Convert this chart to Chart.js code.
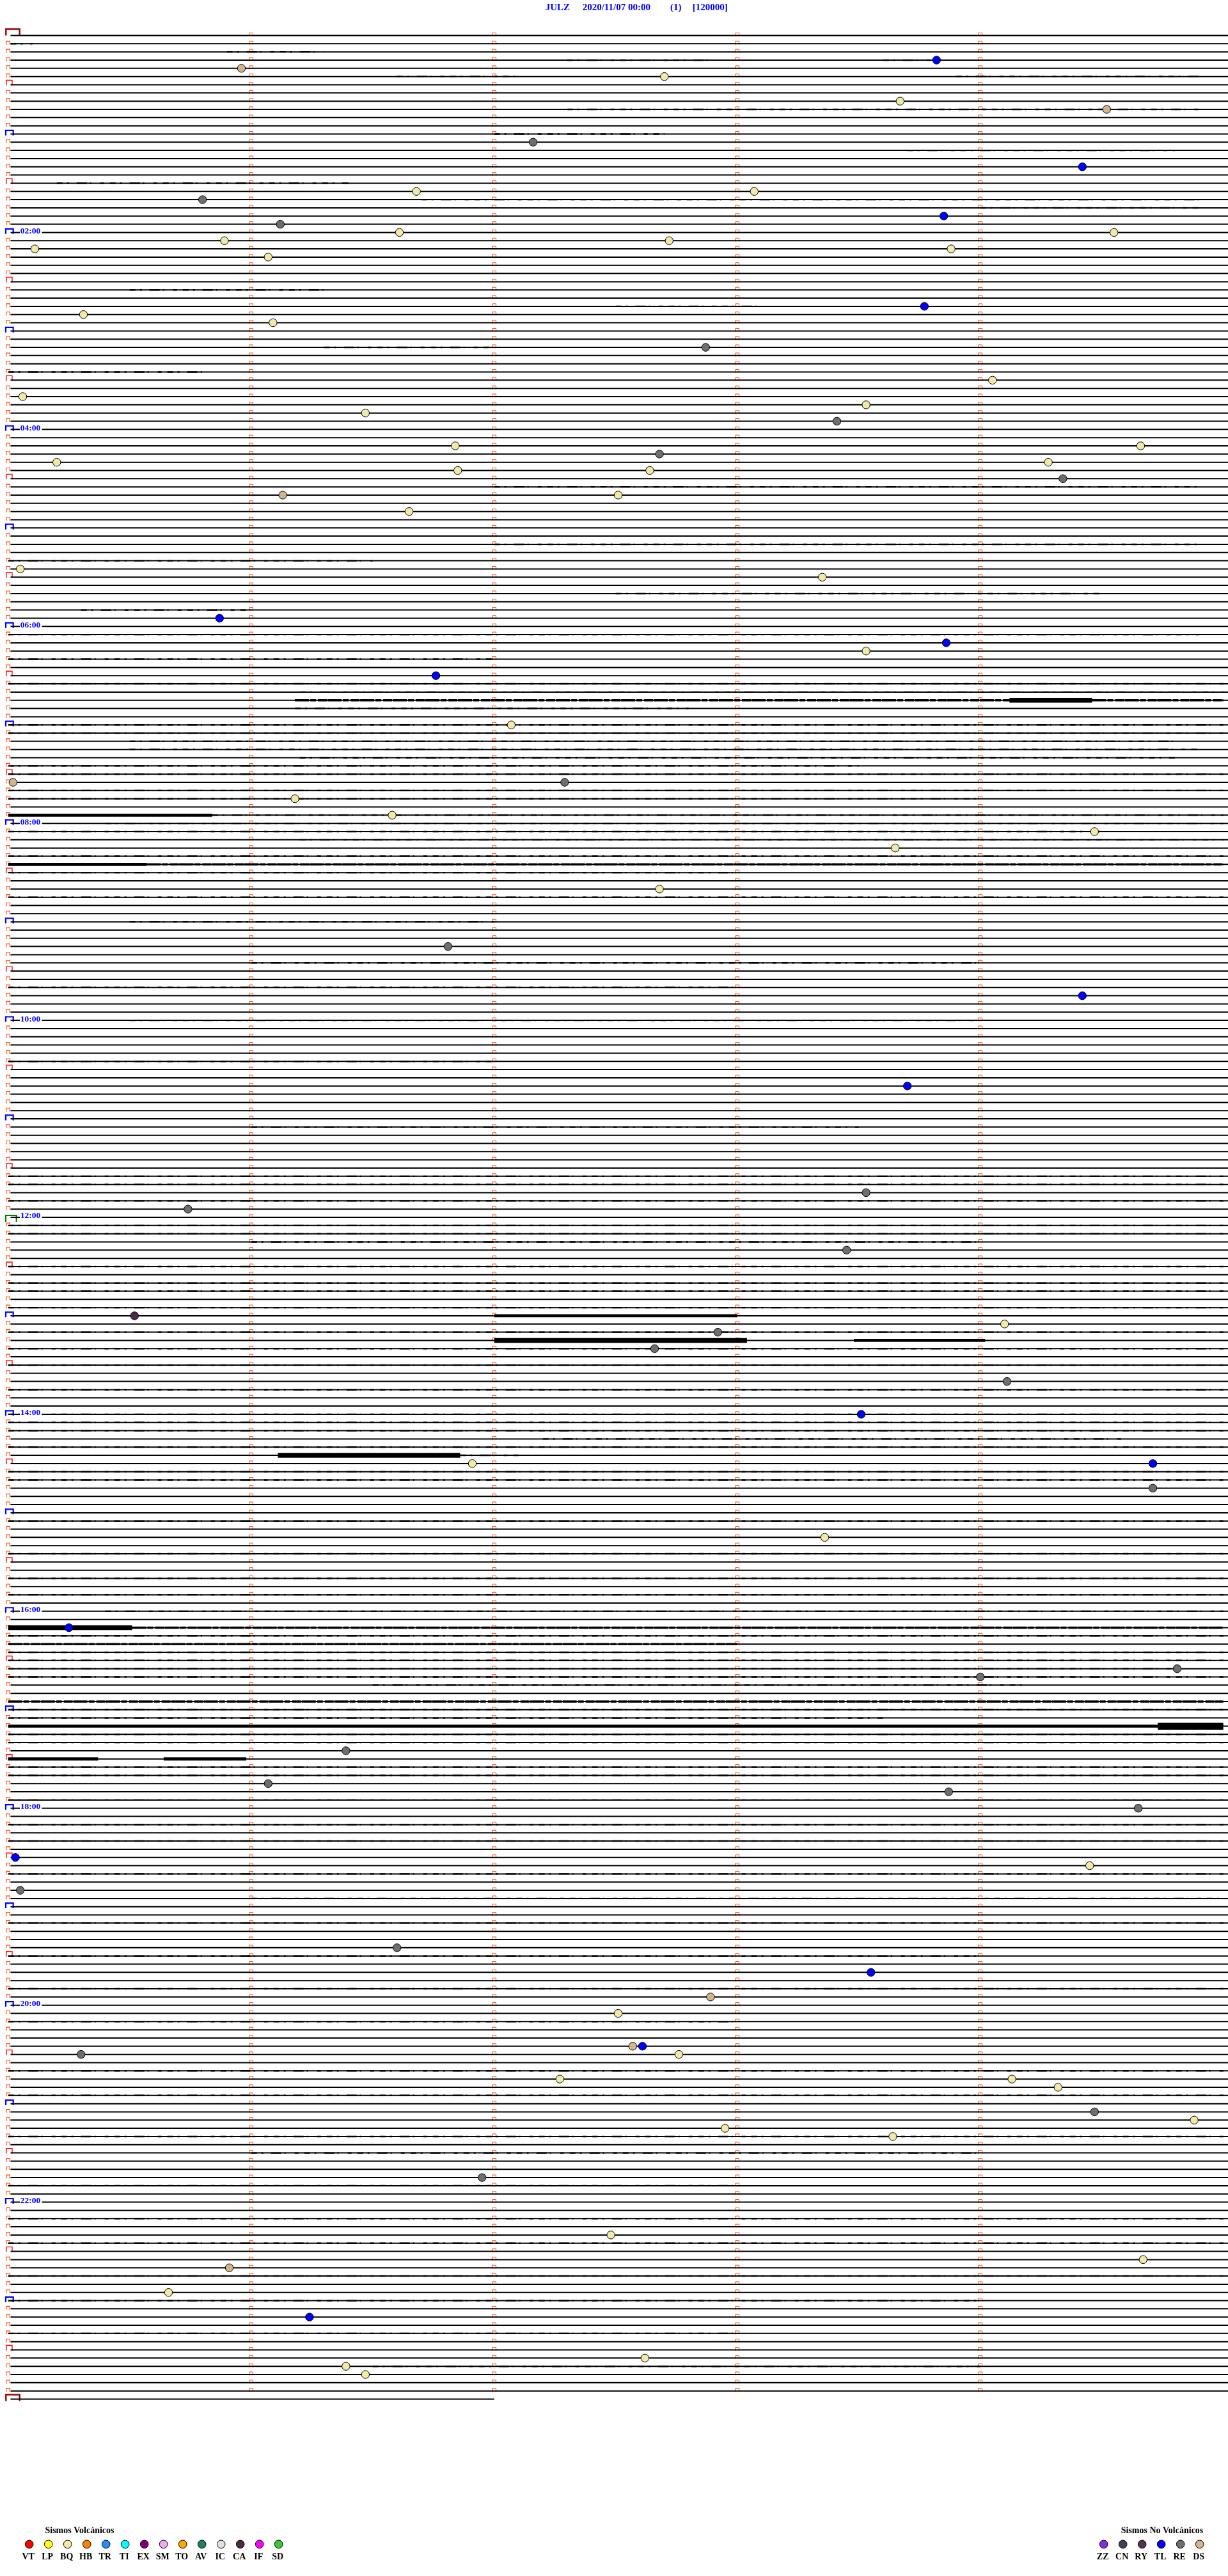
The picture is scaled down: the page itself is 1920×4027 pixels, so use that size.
<!DOCTYPE html>
<html>
<head>
<meta charset="utf-8">
<title>JULZ helicorder</title>
<script src="https://cdn.jsdelivr.net/npm/chart.js@4.4.1/dist/chart.umd.min.js"></script>
<style>
  html, body { margin: 0; padding: 0; background: #fff; }
  #heli { display: block; }
</style>
</head>
<body>
<canvas id="heli" width="1920" height="4027"></canvas>
<script>
// header pieces
const stationName = 'JULZ';
const startStamp = '2020/11/07 00:00';
const pageTag = '(1)';
const gainTag = '[120000]';

// one trace per 5 minutes, 00:00 .. 24:00
const minutesPerRow = 5;
const rowCount = 289;
const lastRowMinutes = 2;
const minuteTicks = [1, 2, 3, 4];
const hourLabels = ['02:00', '04:00', '06:00', '08:00', '10:00', '12:00',
                    '14:00', '16:00', '18:00', '20:00', '22:00'];

// picked events: trace row, minute inside the row, type code
const eventRow = [4, 5, 3, 8, 9, 13, 16, 20, 19, 19, 22, 23, 24, 24, 26, 25, 25, 26, 27, 33,
                  34, 35, 38, 42, 44, 45, 46, 47, 50, 50, 51, 52, 52, 53, 53, 54, 56, 56, 58, 65,
                  66, 71, 74, 75, 78, 84, 91, 91, 93, 95, 97, 99, 104, 111, 117, 128, 141, 143, 148, 156,
                  157, 158, 160, 164, 168, 174, 174, 177, 183, 194, 199, 200, 199, 209, 213, 214, 216, 222, 223, 226,
                  233, 236, 239, 241, 245, 245, 246, 246, 249, 249, 250, 253, 254, 255, 256, 261, 268, 271, 272, 275,
                  278, 283, 284, 285];
const eventMinute = [0.96, 2.70, 3.82, 3.67, 4.52, 2.16, 4.42, 0.80, 1.68, 3.07, 3.85, 1.12, 1.61, 4.55, 0.11, 0.89, 2.72, 3.88, 1.07, 3.77,
                     0.31, 1.09, 2.87, 4.05, 0.06, 3.53, 1.47, 3.41, 1.84, 4.66, 2.68, 0.20, 4.28, 1.85, 2.64, 4.34, 1.13, 2.51, 1.65, 0.05,
                     3.35, 0.87, 3.86, 3.53, 1.76, 2.07, 0.02, 2.29, 1.18, 1.58, 4.47, 3.65, 2.68, 1.81, 4.42, 3.70, 3.53, 0.74, 3.45, 0.52,
                     4.10, 2.92, 2.66, 4.11, 3.51, 1.91, 4.71, 4.71, 3.36, 0.25, -0.02, 4.00, 4.81, 1.39, 1.07, 3.87, 4.65, 0.03, 4.45, 0.05,
                     1.60, 3.55, 2.89, 2.51, 2.57, 2.61, 0.30, 2.76, 2.27, 4.13, 4.32, 4.47, 4.88, 2.95, 3.64, 1.95, 2.48, 4.67, 0.91, 0.66,
                     1.24, 2.62, 1.39, 1.47];
const eventType = ['DS', 'BQ', 'TL', 'BQ', 'DS', 'RE', 'TL', 'RE', 'BQ', 'BQ', 'TL', 'RE', 'BQ', 'BQ', 'BQ', 'BQ', 'BQ', 'BQ', 'BQ', 'TL',
                   'BQ', 'BQ', 'RE', 'BQ', 'BQ', 'BQ', 'BQ', 'RE', 'BQ', 'BQ', 'RE', 'BQ', 'BQ', 'BQ', 'BQ', 'RE', 'DS', 'BQ', 'BQ', 'BQ',
                   'BQ', 'TL', 'TL', 'BQ', 'TL', 'BQ', 'DS', 'RE', 'BQ', 'BQ', 'BQ', 'BQ', 'BQ', 'RE', 'TL', 'TL', 'RE', 'RE', 'RE', 'CA',
                   'BQ', 'RE', 'RE', 'RE', 'TL', 'BQ', 'TL', 'RE', 'BQ', 'TL', 'TL', 'RE', 'RE', 'RE', 'RE', 'RE', 'RE', 'TL', 'BQ', 'RE',
                   'RE', 'TL', 'DS', 'BQ', 'DS', 'TL', 'RE', 'BQ', 'BQ', 'BQ', 'BQ', 'RE', 'BQ', 'BQ', 'BQ', 'RE', 'BQ', 'BQ', 'DS', 'BQ',
                   'TL', 'BQ', 'BQ', 'BQ'];

// strong noisy stretches: row, from minute, to minute, amplitude level 2..5
const burstRow   = [81, 81, 81, 95, 101, 101, 156, 159, 159, 173, 194, 194, 196, 203, 206, 206, 210, 210];
const burstFrom  = [1.18, 4.12, 4.46, 0.0, 0.0, 0.57, 2.0, 2.0, 3.48, 1.11, 0.0, 0.51, 0.0, 0.0, 0.0, 4.73, 0.0, 0.64];
const burstTo    = [4.12, 4.46, 5.0, 0.84, 0.57, 5.0, 3.0, 3.04, 4.02, 1.86, 0.51, 5.0, 3.0, 5.0, 4.73, 5.0, 0.37, 0.98];
const burstLevel = [2, 4, 2, 3, 3, 2, 3, 4, 3, 4, 4, 2, 2, 2, 3, 5, 3, 3];

// light broken noise: row, from minute, to minute
const hissRow  = [1, 2, 3, 3, 5, 5, 9, 12, 14, 18, 20, 21, 31, 33, 38, 41, 55, 62, 64, 68,
                  70, 73, 76, 79, 80, 82, 84, 85, 86, 87, 88, 89, 90, 92, 93, 95, 96, 97, 98, 100,
                  102, 105, 108, 113, 116, 120, 125, 133, 139, 140, 142, 145, 146, 147, 150, 152, 153, 155, 158, 160,
                  162, 165, 168, 169, 170, 171, 172, 173, 175, 176, 181, 185, 188, 190, 192, 195, 197, 198, 199, 200,
                  201, 204, 205, 207, 208, 211, 212, 215, 218, 220, 224, 227, 230, 234, 238, 242, 248, 251, 256, 258,
                  262, 266, 269, 273, 276, 280, 284];
const hissFrom = [0.01, 0.9, 2.3, 3.6, 1.6, 3.9, 2.3, 2.0, 3.7, 0.2, 1.7, 4.0, 0.5, 2.5, 1.3, 0.0, 2.0, 2.0, 0.0, 2.5,
                  0.3, 0.0, 0.0, 0.0, 1.2, 1.18, 0.0, 0.0, 0.5, 0.5, 1.2, 0.0, 0.0, 0.0, 0.0, 0.84, 0.4, 0.0, 1.2, 0.0,
                  0.0, 0.0, 0.5, 1.0, 0.0, 0.5, 0.0, 1.0, 0.0, 0.0, 0.0, 0.0, 0.0, 1.0, 0.0, 0.0, 0.0, 0.0, 0.0, 0.0,
                  0.0, 0.0, 0.0, 0.0, 0.0, 2.2, 0.0, 1.86, 0.0, 0.0, 0.0, 0.0, 0.0, 0.0, 0.4, 0.0, 0.0, 0.0, 0.0, 0.0,
                  1.5, 0.0, 0.0, 0.0, 0.0, 0.0, 0.0, 0.0, 0.0, 0.0, 0.0, 1.0, 0.0, 0.0, 0.0, 0.0, 0.0, 0.0, 0.0, 1.0,
                  0.0, 0.0, 0.0, 0.0, 0.0, 0.0, 1.5];
const hissTo   = [0.10, 1.3, 2.9, 3.8, 2.1, 4.9, 4.9, 2.7, 4.8, 1.4, 4.9, 4.9, 1.3, 3.1, 2.0, 0.8, 4.9, 4.9, 1.5, 4.5,
                  1.0, 4.9, 2.0, 5.0, 5.0, 2.8, 5.0, 5.0, 4.8, 4.9, 4.8, 3.5, 5.0, 5.0, 4.0, 5.0, 5.0, 4.5, 5.0, 5.0,
                  3.0, 5.0, 2.0, 4.0, 3.0, 4.0, 2.0, 3.5, 5.0, 5.0, 5.0, 5.0, 5.0, 4.0, 5.0, 5.0, 5.0, 5.0, 5.0, 5.0,
                  5.0, 5.0, 5.0, 5.0, 5.0, 4.6, 5.0, 2.1, 5.0, 5.0, 5.0, 5.0, 5.0, 5.0, 5.0, 5.0, 5.0, 5.0, 4.8, 5.0,
                  4.2, 5.0, 3.6, 5.0, 5.0, 5.0, 5.0, 5.0, 5.0, 5.0, 5.0, 5.0, 5.0, 4.0, 5.0, 3.0, 5.0, 5.0, 5.0, 4.0,
                  3.0, 5.0, 5.0, 5.0, 4.0, 3.0, 4.0];

// legend classes
const volcanicCodes = ['VT', 'LP', 'BQ', 'HB', 'TR', 'TI', 'EX', 'SM', 'TO', 'AV', 'IC', 'CA', 'IF', 'SD'];
const volcanicColors = ['#ff0000', '#ffff00', '#f2e8a8', '#ff8000', '#1e90ff', '#00ffff', '#800080',
                        '#eeaaee', '#ffa500', '#1f8060', '#e0e0e0', '#4a2a48', '#ff00ff', '#33cc33'];
const otherCodes = ['ZZ', 'CN', 'RY', 'TL', 'RE', 'DS'];
const otherColors = ['#8a2be2', '#4a3a5a', '#553355', '#0000ff', '#6e6e6e', '#d2b48c'];

const typeColor = {};
volcanicCodes.forEach((c, i) => { typeColor[c] = volcanicColors[i]; });
otherCodes.forEach((c, i) => { typeColor[c] = otherColors[i]; });

// quiet trace for every row
const baseline = [];
for (let r = 0; r < rowCount; r++) {
  const end = r === rowCount - 1 ? lastRowMinutes : minutesPerRow + 0.02;
  baseline.push({ x: 0.01, y: r }, { x: end, y: r }, { x: end, y: null });
}

function segments(rows, from, to, keep) {
  const pts = [];
  rows.forEach((r, i) => {
    if (keep && !keep(i)) return;
    pts.push({ x: from[i], y: r }, { x: to[i], y: r }, { x: to[i], y: null });
  });
  return pts;
}

const levelWidth = { 2: 3.4, 3: 4.8, 4: 7.5, 5: 11 };
const burstSets = [2, 3, 4, 5].map(level => ({
  type: 'line',
  data: segments(burstRow, burstFrom, burstTo, i => burstLevel[i] === level),
  borderColor: '#000',
  borderWidth: levelWidth[level],
  borderDash: level === 2 ? [22, 2, 9, 3, 14, 1] : [],
  borderCapStyle: 'butt',
  pointRadius: 0,
  spanGaps: false,
  clip: false,
  order: 2
}));

const hissSet = {
  type: 'line',
  data: segments(hissRow, hissFrom, hissTo),
  borderColor: '#000',
  borderWidth: 2.4,
  borderDash: [9, 7, 3, 12, 16, 5, 2, 14, 6, 9],
  borderCapStyle: 'butt',
  pointRadius: 0,
  spanGaps: false,
  clip: false,
  order: 2
};

function bracket(ctx, left, cy, w, up, down) {
  ctx.beginPath();
  ctx.moveTo(left, cy + down);
  ctx.lineTo(left, cy - up);
  ctx.lineTo(left + w, cy - up);
  ctx.lineTo(left + w, cy + down);
  ctx.stroke();
}

const heliDecor = {
  id: 'heliDecor',
  beforeDatasetsDraw(chart) {
    const { ctx, scales: { x, y } } = chart;
    const x0 = x.getPixelForValue(0);
    ctx.save();
    for (let r = 0; r < rowCount; r++) {
      const py = y.getPixelForValue(r);
      if (r < rowCount - 1) {
        ctx.strokeStyle = '#ff4500';
        ctx.lineWidth = 1;
        minuteTicks.forEach(m => bracket(ctx, x.getPixelForValue(m) - 2.8, py, 5.6, 4, 1.5));
      }
      if (r === 0 || r === rowCount - 1) {
        ctx.strokeStyle = '#990000';
        ctx.lineWidth = 2.4;
        bracket(ctx, x0 - 3.4, py, 21.4, r === 0 ? 10 : 7, r === 0 ? 0 : 3);
      } else if (r % 12 === 0) {
        ctx.lineWidth = 2.2;
        if (r === 144) {
          ctx.strokeStyle = '#008000';
          bracket(ctx, x0 - 3.7, py, 16.7, 3, 7);
        } else {
          ctx.strokeStyle = '#0000ff';
          bracket(ctx, x0 - 3.7, py, 11.7, 5.6, 2.4);
        }
      } else if (r % 12 === 6) {
        ctx.strokeStyle = '#ff0000';
        ctx.lineWidth = 1.3;
        bracket(ctx, x0 - 2.7, py, 9, 7, 1);
      } else {
        ctx.strokeStyle = '#ff4500';
        ctx.lineWidth = 1.1;
        bracket(ctx, x0 - 2.8, py, 5.6, 4, 1.5);
      }
    }
    ctx.restore();
  },
  afterDatasetsDraw(chart) {
    const { ctx, scales: { x, y } } = chart;
    const x0 = x.getPixelForValue(0);
    ctx.save();
    ctx.textBaseline = 'middle';
    ctx.font = 'bold 13.5px "Liberation Serif", serif';
    hourLabels.forEach(label => {
      const py = y.getPixelForValue(parseInt(label, 10) * 12);
      ctx.fillStyle = '#fff';
      ctx.fillRect(x0 + 18.3, py - 8, 34.5, 14);
      ctx.fillStyle = '#0000ff';
      ctx.textAlign = 'left';
      ctx.fillText(label, x0 + 19, py - 2);
    });

    // header
    ctx.font = 'bold 15px "Liberation Serif", serif';
    ctx.fillStyle = '#0000ff';
    ctx.fillText(stationName, 852.7, 12.5);
    ctx.fillText(startStamp, 910.7, 12.5);
    ctx.fillText(pageTag, 1048, 12.5);
    ctx.fillText(gainTag, 1082.7, 12.5);

    // class legend
    const drawGroup = (title, codes, colors, firstX, titleX) => {
      ctx.textAlign = 'center';
      ctx.fillStyle = '#000';
      ctx.font = 'bold 14px "Liberation Serif", serif';
      ctx.fillText(title, titleX, 3956);
      codes.forEach((code, i) => {
        const cx = firstX + i * 30;
        ctx.beginPath();
        ctx.arc(cx, 3977.3, 6.3, 0, Math.PI * 2);
        ctx.fillStyle = colors[i];
        ctx.fill();
        ctx.lineWidth = 1;
        ctx.strokeStyle = '#000';
        ctx.stroke();
        ctx.fillStyle = '#000';
        ctx.font = 'bold 14px "Liberation Serif", serif';
        ctx.fillText(code, cx - 1.5, 3997);
      });
    };
    drawGroup('Sismos Volcánicos', volcanicCodes, volcanicColors, 45.7, 124.5);
    drawGroup('Sismos No Volcánicos', otherCodes, otherColors, 1725.7, 1817);
    ctx.restore();
  }
};

new Chart(document.getElementById('heli').getContext('2d'), {
  type: 'scatter',
  data: {
    datasets: [
      {
        type: 'scatter',
        data: eventRow.map((r, i) => ({ x: eventMinute[i], y: r })),
        pointBackgroundColor: eventType.map(t => typeColor[t]),
        pointBorderColor: '#000',
        pointBorderWidth: 1,
        pointRadius: 6.2,
        clip: false,
        order: 0
      },
      ...burstSets,
      hissSet,
      {
        type: 'line',
        data: baseline,
        borderColor: '#000',
        borderWidth: 2,
        pointRadius: 0,
        spanGaps: false,
        clip: false,
        order: 3
      }
    ]
  },
  options: {
    responsive: false,
    animation: false,
    devicePixelRatio: 1,
    layout: { padding: { left: 12.7, right: 7.3, top: 55.5, bottom: 276.5 } },
    scales: {
      x: { type: 'linear', min: 0, max: minutesPerRow, display: false },
      y: { type: 'linear', min: 0, max: rowCount - 1, reverse: true, display: false }
    },
    plugins: {
      legend: { display: false },
      tooltip: { enabled: false }
    }
  },
  plugins: [heliDecor]
});
</script>
</body>
</html>
